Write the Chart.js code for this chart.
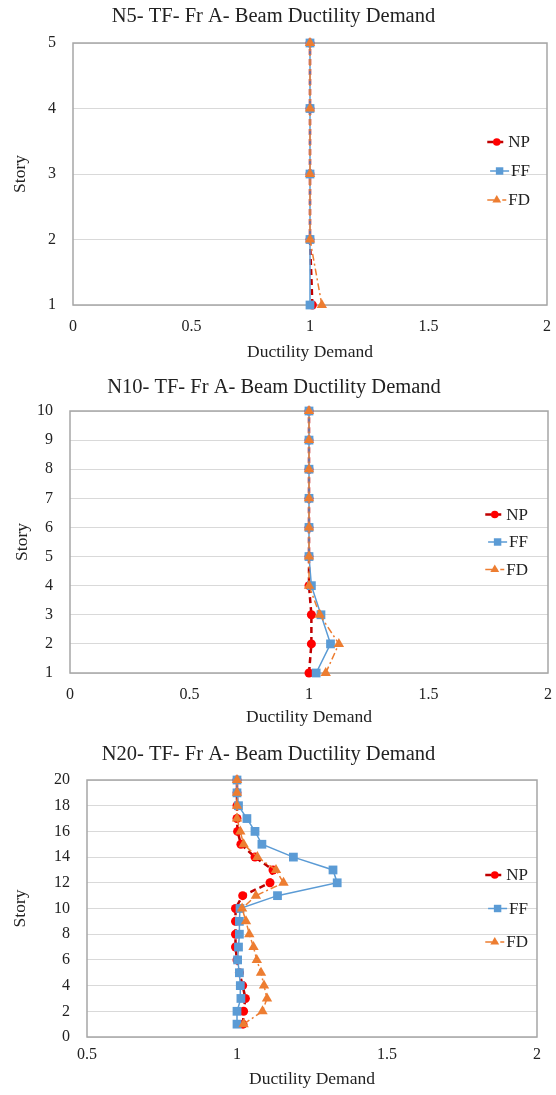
<!DOCTYPE html>
<html>
<head>
<meta charset="UTF-8">
<title>TF- Fr A- Beam Ductility Demand</title>
<script src="https://cdn.jsdelivr.net/npm/chart.js"></script>
<style>
body { margin: 0; background: #fff; }
canvas { display: block; }
</style>
</head>
<body>
<canvas id="n5" width="556" height="365"></canvas>
<canvas id="n10" width="556" height="365"></canvas>
<canvas id="n20" width="556" height="365"></canvas>
<script>
// stories and ductility demand
var stories5 = [1, 2, 3, 4, 5];
var n5NP = [1.01, 1, 1, 1, 1];
var n5FF = [1.0, 1, 1, 1, 1];
var n5FD = [1.05, 1, 1, 1, 1];

var stories10 = [1, 2, 3, 4, 5, 6, 7, 8, 9, 10];
var n10NP = [1.0, 1.01, 1.01, 1, 1, 1, 1, 1, 1, 1];
var n10FF = [1.03, 1.09, 1.05, 1.01, 1, 1, 1, 1, 1, 1];
var n10FD = [1.07, 1.125, 1.045, 1.0, 1, 1, 1, 1, 1, 1];

var stories20 = [1, 2, 3, 4, 5, 6, 7, 8, 9, 10, 11, 12, 13, 14, 15, 16, 17, 18, 19, 20];
var n20NP = [1.02, 1.022, 1.028, 1.019, 1.008, 1.0, 0.995, 0.995, 0.995, 0.995,
             1.019, 1.11, 1.12, 1.06, 1.013, 1.002, 1.0, 1.0, 1.0, 1.0];
var n20FF = [1.0, 1.0, 1.013, 1.011, 1.008, 1.002, 1.005, 1.008, 1.008, 1.01,
             1.135, 1.334, 1.32, 1.188, 1.083, 1.06, 1.033, 1.005, 1.0, 1.0];
var n20FD = [1.022, 1.085, 1.1, 1.09, 1.08, 1.066, 1.055, 1.041, 1.03, 1.017,
             1.063, 1.155, 1.13, 1.068, 1.022, 1.011, 1.0, 1.0, 1.0, 1.0];

var serif = "'Liberation Serif', 'Times New Roman', serif";
var textColor = '#222';

function pts(stories, vals) {
    return stories.map(function(s, i) { return {x: vals[i], y: s}; });
}

function drawMarker(ctx, style, x, y, r, color) {
    ctx.fillStyle = color;
    ctx.beginPath();
    if (style == 'circle') {
        ctx.arc(x, y, r, 0, Math.PI * 2);
    } else if (style == 'rect') {
        var s = r * Math.SQRT1_2;
        ctx.rect(x - s, y - s, 2 * s, 2 * s);
    } else {
        var h = r * 1.5, w = h * 2 / Math.sqrt(3);
        ctx.moveTo(x, y - r);
        ctx.lineTo(x + w / 2, y - r + h);
        ctx.lineTo(x - w / 2, y - r + h);
        ctx.closePath();
    }
    ctx.fill();
}

// grey box round the plot area
var plotBox = {
    id: 'plotBox',
    beforeDatasetsDraw: function(chart) {
        var a = chart.chartArea, ctx = chart.ctx;
        ctx.save();
        ctx.strokeStyle = '#a6a6a6';
        ctx.lineWidth = 1.5;
        ctx.strokeRect(a.left, a.top, a.right - a.left, a.bottom - a.top);
        ctx.restore();
    }
};

// legend drawn inside the plot area, right side
var inAreaLegend = {
    id: 'inAreaLegend',
    afterDatasetsDraw: function(chart, args, opts) {
        var ctx = chart.ctx, a = chart.chartArea;
        var cy = (a.top + a.bottom) / 2 + (opts.shift || 0);
        ctx.save();
        ctx.font = '17px ' + serif;
        ctx.textBaseline = 'middle';
        ctx.textAlign = 'left';
        chart.data.datasets.forEach(function(ds, i) {
            var y = cy + (i - 1) * opts.spacing;
            var w = ctx.measureText(ds.label).width;
            var tx = a.right - opts.inset - w;
            var x1 = tx - 2, x0 = x1 - 19;
            ctx.strokeStyle = ds.borderColor;
            ctx.lineWidth = ds.borderWidth;
            ctx.setLineDash(ds.borderDash || []);
            ctx.beginPath();
            ctx.moveTo(x0, y);
            ctx.lineTo(x1, y);
            ctx.stroke();
            ctx.setLineDash([]);
            drawMarker(ctx, ds.pointStyle, (x0 + x1) / 2, y, ds.pointRadius * 0.85, ds.pointBackgroundColor);
            ctx.fillStyle = textColor;
            ctx.fillText(ds.label, tx, y + 1);
        });
        ctx.restore();
    }
};

function makeChart(id, title, stories, np, ff, fd, c) {
    var datasets = [
        {label: 'NP', data: pts(stories, np), showLine: true, order: 2, clip: false,
         borderColor: '#C00000', borderWidth: 2.5, borderDash: [6, 4],
         pointStyle: 'circle', pointRadius: 4.5,
         pointBackgroundColor: '#FF0000', pointBorderColor: '#FF0000', pointBorderWidth: 0},
        {label: 'FF', data: pts(stories, ff), showLine: true, order: 1, clip: false,
         borderColor: '#5B9BD5', borderWidth: 1.5,
         pointStyle: 'rect', pointRadius: 6.2,
         pointBackgroundColor: '#5B9BD5', pointBorderColor: '#5B9BD5', pointBorderWidth: 0},
        {label: 'FD', data: pts(stories, fd), showLine: true, order: 0, clip: false,
         borderColor: '#ED7D31', borderWidth: 1.5, borderDash: [7, 3, 2, 3],
         pointStyle: 'triangle', pointRadius: 6,
         pointBackgroundColor: '#ED7D31', pointBorderColor: '#ED7D31', pointBorderWidth: 0}
    ];
    return new Chart(document.getElementById(id), {
        type: 'scatter',
        data: {datasets: datasets},
        plugins: [plotBox, inAreaLegend],
        options: {
            responsive: false,
            animation: false,
            layout: {padding: {left: 0, right: c.padRight, top: 0, bottom: 0}},
            plugins: {
                legend: {display: false},
                tooltip: {enabled: false},
                title: {display: true, text: title, color: textColor,
                        font: {family: serif, size: 20.5, weight: 'normal'},
                        padding: {top: c.titleTop, bottom: c.titleBottom}},
                inAreaLegend: c.legend
            },
            scales: {
                x: {
                    type: 'linear', min: c.xMin, max: 2,
                    afterFit: function(s) { s.height = c.xHeight; s.paddingRight = 3; },
                    grid: {display: false, drawTicks: false},
                    border: {display: false},
                    ticks: {stepSize: 0.5, padding: c.xTickPad, color: textColor,
                            font: {family: serif, size: 16},
                            callback: function(v) { return String(v); }},
                    title: {display: true, text: 'Ductility Demand', color: textColor,
                            font: {family: serif, size: 17.5}, padding: {top: 0, bottom: c.xTitlePad}}
                },
                y: {
                    type: 'linear', min: c.yMin, max: c.yMax,
                    afterFit: function(s) { s.width = c.yWidth; },
                    grid: {color: '#d9d9d9', lineWidth: 1, drawTicks: false},
                    border: {display: false},
                    ticks: {stepSize: c.yStep, padding: 17, color: textColor,
                            font: {family: serif, size: 16}},
                    title: {display: true, text: 'Story', color: textColor,
                            font: {family: serif, size: 17.5}, padding: {top: c.yTitlePad, bottom: 0}}
                }
            }
        }
    });
}

makeChart('n5', 'N5- TF- Fr A- Beam Ductility Demand', stories5, n5NP, n5FF, n5FD,
    {xMin: 0, yMin: 1, yMax: 5, yStep: 1, yWidth: 73, xHeight: 60, padRight: 9,
     titleTop: 4.7, titleBottom: 13.7, xTickPad: 12, xTitlePad: 2, yTitlePad: 10,
     legend: {inset: 17, spacing: 29, shift: -3}});

makeChart('n10', 'N10- TF- Fr A- Beam Ductility Demand', stories10, n10NP, n10FF, n10FD,
    {xMin: 0, yMin: 1, yMax: 10, yStep: 1, yWidth: 70, xHeight: 57, padRight: 8,
     titleTop: 10.7, titleBottom: 10.7, xTickPad: 12, xTitlePad: 2, yTitlePad: 12,
     legend: {inset: 20, spacing: 27.5, shift: 0}});

makeChart('n20', 'N20- TF- Fr A- Beam Ductility Demand', stories20, n20NP, n20FF, n20FD,
    {xMin: 0.5, yMin: 0, yMax: 20, yStep: 2, yWidth: 87, xHeight: 58, padRight: 19,
     titleTop: 12.7, titleBottom: 12.7, xTickPad: 8, xTitlePad: 5, yTitlePad: 10,
     legend: {inset: 9, spacing: 33.5, shift: 0}});
</script>
</body>
</html>
